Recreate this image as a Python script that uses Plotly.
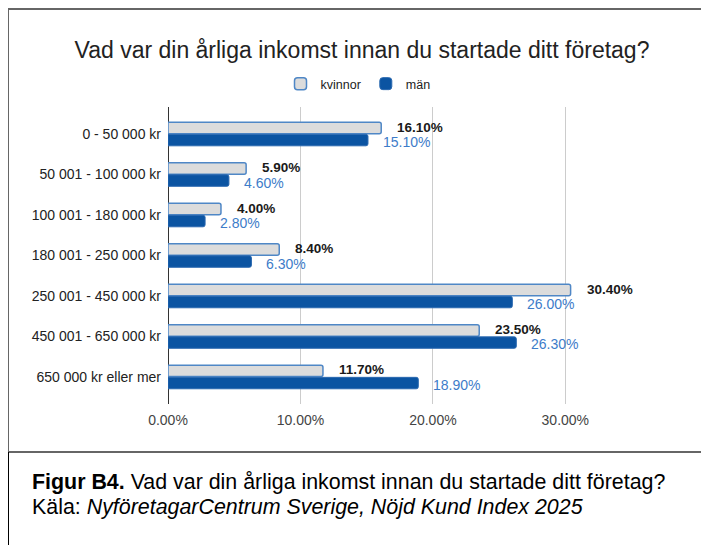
import plotly.graph_objects as go

categories = ["0 - 50 000 kr", "50 001 - 100 000 kr", "100 001 - 180 000 kr",
              "180 001 - 250 000 kr", "250 001 - 450 000 kr", "450 001 - 650 000 kr",
              "650 000 kr eller mer"]
kvinnor = [16.10, 5.90, 4.00, 8.40, 30.40, 23.50, 11.70]
man = [15.10, 4.60, 2.80, 6.30, 26.00, 26.30, 18.90]
tick_vals = [0, 10, 20, 30, 40]
tick_text = ["0.00%", "10.00%", "20.00%", "30.00%", ""]

OFF = 8  # the page body has an 8px margin; work in window px and shift
W, H = 709 - OFF, 545 - OFF
L, R, T, B = 168 - OFF, 698 - OFF, 107 - OFF, 404 - OFF  # plot area in figure px
FONT = "Liberation Sans, Arial, sans-serif"

def px_x(p):
    return (p - OFF - L) / (R - L)

def px_y(p):
    return (B - (p - OFF)) / (B - T)

fig = go.Figure()
fig.add_trace(go.Bar(
    y=categories, x=kvinnor, name="kvinnor", orientation="h",
    marker=dict(color="#dcdcdc", line=dict(color="#4f87c6", width=1.5), cornerradius=2),
    hoverinfo="skip"))
fig.add_trace(go.Bar(
    y=categories, x=man, name="män", orientation="h",
    marker=dict(color="#0b54a2", line=dict(color="#2a68b0", width=1), cornerradius=2),
    hoverinfo="skip"))

annotations = []
for c, v in zip(categories, kvinnor):
    annotations.append(dict(x=v, y=c, xref="x", yref="y", text=f"<b>{v:.2f}%</b>",
                            showarrow=False, xanchor="left", yanchor="middle",
                            xshift=14, yshift=7,
                            font=dict(family=FONT, size=13.5, color="#1a1a1a")))
for c, v in zip(categories, man):
    annotations.append(dict(x=v, y=c, xref="x", yref="y", text=f"{v:.2f}%",
                            showarrow=False, xanchor="left", yanchor="middle",
                            xshift=13, yshift=-8,
                            font=dict(family=FONT, size=14, color="#3d7cc9")))

# caption
annotations.append(dict(x=px_x(30), y=px_y(482), xref="paper", yref="paper",
                        text="<b>Figur B4.</b> Vad var din årliga inkomst innan du startade ditt företag?",
                        showarrow=False, xanchor="left", yanchor="middle", align="left",
                        font=dict(family=FONT, size=21.4, color="#000000")))
annotations.append(dict(x=px_x(30), y=px_y(507), xref="paper", yref="paper",
                        text="Käla: <i>NyföretagarCentrum Sverige, Nöjd Kund Index 2025</i>",
                        showarrow=False, xanchor="left", yanchor="middle", align="left",
                        font=dict(family=FONT, size=21.4, color="#000000")))

shapes = [
    # gray chart frame
    dict(type="rect", xref="paper", yref="paper",
         x0=px_x(8), x1=px_x(730), y0=px_y(452), y1=px_y(9),
         line=dict(color="#666666", width=2), fillcolor="rgba(0,0,0,0)", layer="below"),
    # black caption box left edge
    dict(type="line", xref="paper", yref="paper",
         x0=px_x(8), x1=px_x(8), y0=px_y(452), y1=px_y(570),
         line=dict(color="#000000", width=2)),
]

fig.update_layout(
    width=W, height=H,
    margin=dict(l=L, r=W - R, t=T, b=H - B, autoexpand=False),
    paper_bgcolor="white", plot_bgcolor="white",
    barmode="group", bargap=0.4, bargroupgap=0.06,
    font=dict(family=FONT, color="#222222"),
    title=dict(text="Vad var din årliga inkomst innan du startade ditt företag?",
               x=(362 - OFF) / W, xanchor="center", y=1 - (50 - OFF) / H, yanchor="middle",
               font=dict(family=FONT, size=23, color="#222222")),
    legend=dict(orientation="h", x=px_x(358), xanchor="center", y=px_y(84), yanchor="middle",
                font=dict(family=FONT, size=12.5, color="#222222"),
                bgcolor="rgba(0,0,0,0)", itemclick=False, itemdoubleclick=False),
    xaxis=dict(range=[0, 40.02], tickvals=tick_vals, ticktext=tick_text,
               showgrid=True, gridcolor="#cccccc", gridwidth=1,
               zeroline=True, zerolinecolor="#333333", zerolinewidth=1,
               showline=False, ticks="", ticklabelstandoff=6,
               tickfont=dict(family=FONT, size=14, color="#444444"), fixedrange=True),
    yaxis=dict(categoryorder="array", categoryarray=categories,
               range=[6.667, -0.667], showgrid=False, zeroline=False, showline=False,
               ticks="", ticklabelstandoff=6,
               tickfont=dict(family=FONT, size=14, color="#222222"), fixedrange=True),
    annotations=annotations, shapes=shapes,
    showlegend=True,
)

fig.write_html("out.html", config={"displayModeBar": False})
